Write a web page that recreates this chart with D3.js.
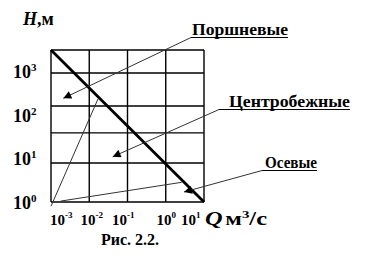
<!DOCTYPE html>
<html><head><meta charset="utf-8">
<script src="https://cdn.jsdelivr.net/npm/d3@7"></script>
<style>body{margin:0;background:#fff}svg{display:block}text{font-family:"Liberation Serif",serif}</style>
</head><body><svg id="c" width="366" height="260"></svg>
<script>
// ---- data ----
const qTicks = [1e-3, 1e-2, 1e-1, 1, 10];
const qTickExp = ["-3", "-2", "-1", "0", "1"];
const hTicks = [1, 10, 100, 1000];
const hTickExp = ["0", "1", "2", "3"];
const hGrid = [1, 7.9, 39, 162, 930, 3160];
const qDomain = [1e-3, 10];
const hDomain = [1, 3160];
const mainQ = [1e-3, 10];
const mainH = [3160, 1];
const centQ = [1e-3, 0.0169];
const centH = [0.8, 235];
const axialQ = [0.00179, 2.61];
const axialH = [1.05, 2.84];
const pumpNames = ["Поршневые", "Центробежные", "Осевые"];
const arrowQ = [0.0021, 0.041, 3.0];
const arrowH = [244, 11, 1.7];
const caption = "Рис. 2.2.";

// ---- drawing ----
const svg = d3.select("#c");
svg.append("rect").attr("width", 366).attr("height", 260).attr("fill", "#fff");
const x = d3.scaleLog().domain(qDomain).range([51, 204]);
const y = d3.scaleLog().domain(hDomain).range([202, 50]);

const defs = svg.append("defs");
defs.append("marker").attr("id", "ah").attr("viewBox", "0 0 10 10")
  .attr("refX", 10).attr("refY", 5).attr("markerWidth", 11).attr("markerHeight", 8)
  .attr("markerUnits", "userSpaceOnUse").attr("orient", "auto")
  .append("path").attr("d", "M0,0 L10,5 L0,10 Z").attr("fill", "#000");

const g = svg.append("g");
g.selectAll("line.v").data(qTicks).join("line").attr("class", "v")
  .attr("x1", d => x(d)).attr("x2", d => x(d))
  .attr("y1", y(hDomain[0])).attr("y2", y(hDomain[1]))
  .attr("stroke", "#000").attr("stroke-width", 1.4);
g.selectAll("line.h").data(hGrid).join("line").attr("class", "h")
  .attr("x1", x(qDomain[0])).attr("x2", x(qDomain[1]))
  .attr("y1", d => y(d)).attr("y2", d => y(d))
  .attr("stroke", "#000").attr("stroke-width", 1.4);

const line = d3.line().x(d => x(d[0])).y(d => y(d[1]));
g.append("path").attr("d", line(d3.zip(centQ, centH)))
  .attr("fill", "none").attr("stroke", "#333").attr("stroke-width", 1);
g.append("path").attr("d", line(d3.zip(axialQ, axialH)))
  .attr("fill", "none").attr("stroke", "#333").attr("stroke-width", 1);
g.append("path").attr("d", line(d3.zip(mainQ, mainH)))
  .attr("fill", "none").attr("stroke", "#000").attr("stroke-width", 2.8);

// annotations
const labelPos = [[192, 35], [229, 107], [265, 168]];
const labelW = [96, 121, 52];
pumpNames.forEach((name, i) => {
  const [lx, ly] = labelPos[i];
  svg.append("text").attr("x", lx).attr("y", ly)
    .attr("font-weight", "bold").attr("font-size", 17)
    .attr("textLength", labelW[i]).attr("lengthAdjust", "spacingAndGlyphs")
    .attr("fill", "#000").text(name);
  const ux = lx - (i === 0 ? 1 : i === 1 ? 10 : 3), uy = ly + 2.5;
  svg.append("line").attr("x1", ux).attr("x2", lx + labelW[i]).attr("y1", uy).attr("y2", uy)
    .attr("stroke", "#000").attr("stroke-width", 1.2);
  svg.append("line").attr("x1", ux).attr("y1", uy)
    .attr("x2", x(arrowQ[i])).attr("y2", y(arrowH[i]))
    .attr("stroke", "#333").attr("stroke-width", 1).attr("marker-end", "url(#ah)");
});

// y tick labels
hTicks.forEach((v, i) => {
  const t = svg.append("text").attr("x", 13).attr("y", y(v) + 6.5)
    .attr("font-weight", "bold").attr("font-size", 18).attr("fill", "#000");
  t.append("tspan").text("10");
  t.append("tspan").attr("font-size", 11).attr("dy", -7).text(hTickExp[i]);
});

// x tick labels flowing as a text line
const xt = svg.append("text").attr("x", 50).attr("y", 225)
  .attr("font-weight", "bold").attr("font-size", 15).attr("fill", "#000");
const gaps = [0, 8, 9, 22, 5];
qTicks.forEach((v, i) => {
  xt.append("tspan").attr("dx", gaps[i]).attr("dy", i === 0 ? 0 : 7).text("10");
  xt.append("tspan").attr("font-size", 9).attr("dy", -7).text(qTickExp[i]);
});
// axis unit
const ut = svg.append("text").attr("x", 205).attr("y", 225)
  .attr("font-weight", "bold").attr("font-size", 18).attr("fill", "#000")
  .attr("textLength", 62).attr("lengthAdjust", "spacingAndGlyphs");
ut.append("tspan").attr("font-style", "italic").text("Q");
ut.append("tspan").attr("dx", 2).text("м");
ut.append("tspan").attr("font-size", 11).attr("dy", -7).text("3");
ut.append("tspan").attr("dy", 7).text("/с");

// axis title
const ht = svg.append("text").attr("x", 23).attr("y", 25)
  .attr("font-weight", "bold").attr("font-size", 18).attr("fill", "#000");
ht.append("tspan").attr("font-style", "italic").text("H");
ht.append("tspan").text(",м");

// caption
svg.append("text").attr("x", 101).attr("y", 245)
  .attr("font-weight", "bold").attr("font-size", 16).attr("fill", "#000")
  .text(caption);
</script></body></html>
